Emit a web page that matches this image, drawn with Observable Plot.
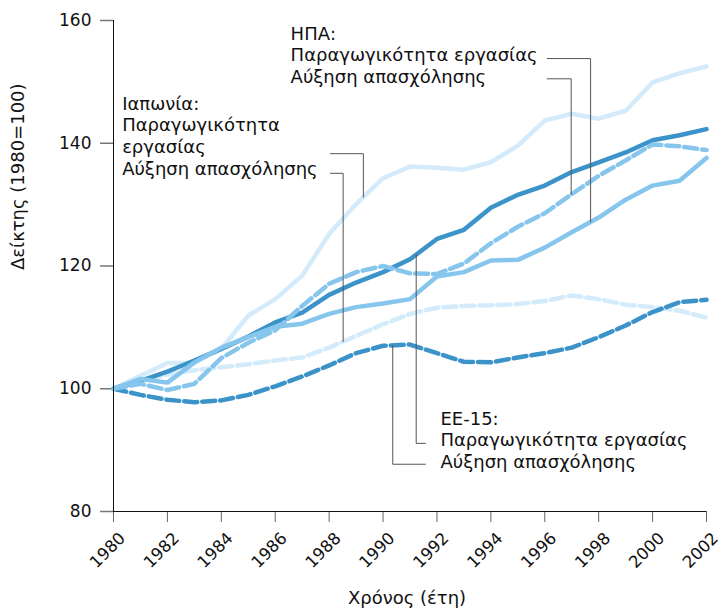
<!DOCTYPE html>
<html>
<head>
<meta charset="utf-8">
<script src="https://cdn.jsdelivr.net/npm/d3@7"></script>
<script src="https://cdn.jsdelivr.net/npm/@observablehq/plot@0.6"></script>
<style>
  html, body { margin: 0; padding: 0; background: #fff; }
  svg { font-family: "DejaVu Sans", Verdana, sans-serif; }
</style>
</head>
<body>
<div id="chart"></div>
<script>
const years = [1980,1981,1982,1983,1984,1985,1986,1987,1988,1989,1990,1991,1992,1993,1994,1995,1996,1997,1998,1999,2000,2001,2002];
const xTicks = [1980,1982,1984,1986,1988,1990,1992,1994,1996,1998,2000,2002];
const yTicks = [80,100,120,140,160];

// EE-15
const euProd = [100,101.3,102.8,104.6,106.5,108.5,110.8,112.4,115.3,117.3,119.0,121.1,124.4,125.9,129.5,131.6,133.1,135.3,136.9,138.5,140.5,141.3,142.3];
const euEmp  = [100,99.0,98.2,97.8,98.1,99.0,100.4,102.0,103.8,105.8,107.0,107.2,105.8,104.4,104.3,105.1,105.8,106.7,108.4,110.3,112.5,114.1,114.5];
// ΗΠΑ
const usProd = [100,101.6,101.0,104.3,106.7,108.4,110.1,110.6,112.2,113.3,113.9,114.6,118.3,119.0,120.9,121.0,123.0,125.5,127.9,130.8,133.1,133.9,137.6];
const usEmp  = [100,100.8,99.8,100.8,105.0,107.5,109.5,113.5,117.1,119.0,120.0,118.8,118.7,120.4,123.7,126.4,128.6,131.7,134.7,137.2,139.8,139.5,138.9];
// Ιαπωνία
const jpProd = [100,102.1,104.2,104.2,106.5,111.9,114.6,118.4,125.2,130.1,134.3,136.2,136.0,135.7,136.9,139.6,143.7,144.8,144.0,145.3,149.9,151.4,152.5];
const jpEmp  = [100,101.3,102.3,103.0,103.5,104.0,104.6,105.1,106.7,108.6,110.5,112.2,113.2,113.5,113.6,113.8,114.3,115.2,114.6,113.7,113.3,112.7,111.6];

const seriesNames = ["jpProd","jpEmp","euProd","euEmp","usProd","usEmp"];
const seriesValues = {jpProd, jpEmp, euProd, euEmp, usProd, usEmp};
const colors = {jp: "#d3ebfa", us: "#86c6ed", eu: "#3b93c9"};

const rows = [];
for (const name of seriesNames) {
  seriesValues[name].forEach((v, i) => rows.push({series: name, year: years[i], value: v}));
}

function interp(arr, yr) {
  const i = Math.min(Math.floor(yr - years[0]), years.length - 2);
  const t = yr - years[i];
  return arr[i] + t * (arr[i + 1] - arr[i]);
}

// annotation texts (data coordinates)
const annoTexts = [
  {text: "Ιαπωνία:", x: 1980.32, y: 146.4},
  {text: "Παραγωγικότητα", x: 1980.32, y: 142.9},
  {text: "εργασίας", x: 1980.32, y: 139.3},
  {text: "Αύξηση απασχόλησης", x: 1980.32, y: 135.8},
  {text: "ΗΠΑ:", x: 1986.57, y: 157.8},
  {text: "Παραγωγικότητα εργασίας", x: 1986.57, y: 154.3},
  {text: "Αύξηση απασχόλησης", x: 1986.57, y: 150.8},
  {text: "ΕΕ-15:", x: 1992.13, y: 95.1},
  {text: "Παραγωγικότητα εργασίας", x: 1992.13, y: 91.6},
  {text: "Αύξηση απασχόλησης", x: 1992.13, y: 88.0}
];

// leader lines: list of points, one end on the series
const leaders = [
  [[1988.05, 138.3], [1989.27, 138.3], [1989.27, interp(jpProd, 1989.27)]],
  [[1988.05, 135.1], [1988.52, 135.1], [1988.52, interp(jpEmp, 1988.52)]],
  [[1996.09, 153.8], [1997.70, 153.8], [1997.70, interp(usProd, 1997.70)]],
  [[1996.09, 150.5], [1996.98, 150.5], [1996.98, interp(usEmp, 1996.98)]],
  [[1991.23, interp(euProd, 1991.23)], [1991.23, 91.1], [1991.57, 91.1]],
  [[1990.36, interp(euEmp, 1990.36)], [1990.36, 87.7], [1991.57, 87.7]]
];
const leaderRows = [];
leaders.forEach((pts, k) => pts.forEach(p => leaderRows.push({k, x: p[0], y: p[1]})));

const lineStyle = (name) => ({
  stroke: colors[name.slice(0, 2)],
  strokeWidth: 4.5,
  strokeDasharray: name.endsWith("Emp") ? "13,5" : null
});

const seriesMarks = seriesNames.map(name =>
  Plot.line(rows.filter(d => d.series === name), {x: "year", y: "value", ...lineStyle(name)})
);

const chart = Plot.plot({
  width: 725,
  height: 613,
  marginLeft: 113,
  marginRight: 19,
  marginTop: 20,
  marginBottom: 102,
  style: {fontFamily: "'DejaVu Sans', Verdana, sans-serif", fontSize: "17px", color: "#111", background: "#fff"},
  x: {domain: [1980, 2002]},
  y: {domain: [80, 160]},
  marks: [
    Plot.axisY({ticks: yTicks, tickSize: 13, tickPadding: 9, stroke: "#777", strokeWidth: 1.5, label: null, fontSize: 17}),
    // x tick marks only
    Plot.axisX({ticks: xTicks, tickSize: 11, stroke: "#666", fill: "none", label: null}),
    // x tick labels, rotated
    Plot.text(xTicks, {x: d => d, text: d => String(d), frameAnchor: "bottom", rotate: -45, textAnchor: "end", lineAnchor: "middle", dx: 9, dy: 24, fontSize: 16.5, fill: "#111"}),
    ...seriesMarks,
    Plot.ruleX([1980], {stroke: "#111"}),
    Plot.ruleY([80], {stroke: "#111"}),
    Plot.line(leaderRows, {x: "x", y: "y", z: "k", stroke: "#555", strokeWidth: 1}),
    Plot.text(annoTexts, {x: "x", y: "y", text: "text", textAnchor: "start", fill: "#111", fontSize: 18}),
    Plot.text(["Δείκτης (1980=100)"], {frameAnchor: "left", dx: -95, dy: 4, rotate: -90, fontSize: 18, fill: "#111"}),
    Plot.text(["Χρόνος (έτη)"], {frameAnchor: "bottom", dx: -3, dy: 92, fontSize: 18, fill: "#111"})
  ]
});
document.getElementById("chart").appendChild(chart);
</script>
</body>
</html>
